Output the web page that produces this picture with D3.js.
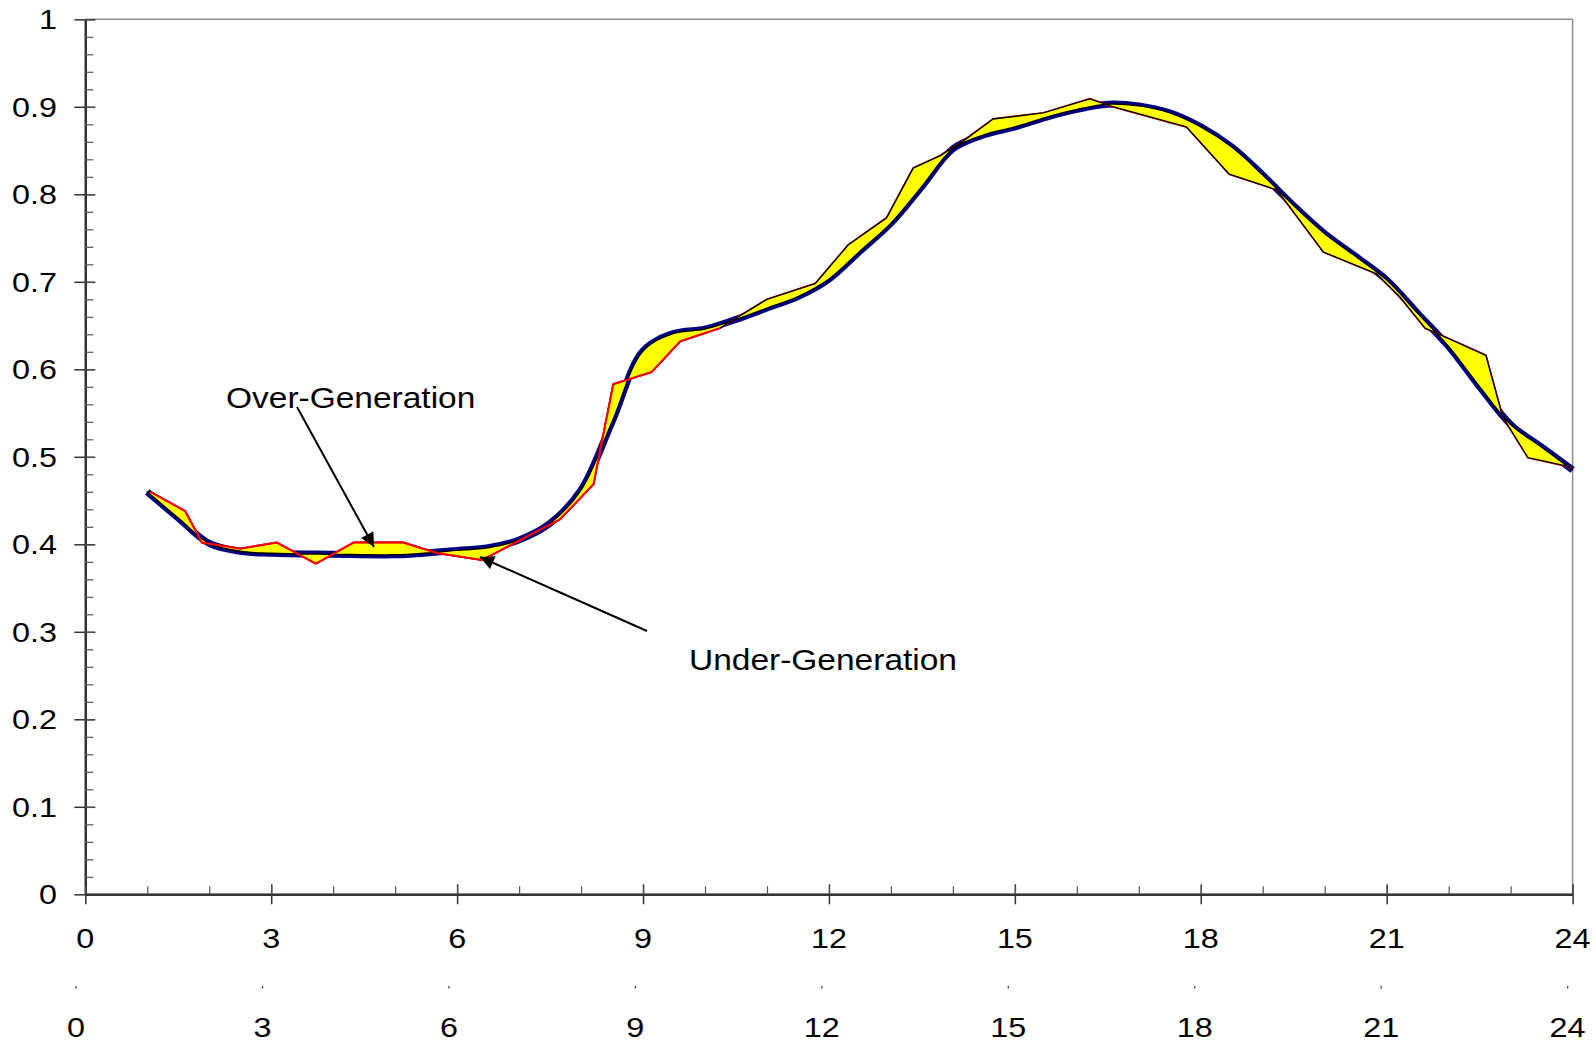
<!DOCTYPE html>
<html><head><meta charset="utf-8">
<script src="https://cdn.jsdelivr.net/npm/d3@7"></script>
<style>
html,body{margin:0;padding:0;background:#fff;}
svg{display:block;}
text{font-family:"Liberation Sans",Arial,sans-serif;fill:#000;}
</style></head>
<body>
<svg id="chart" width="1596" height="1043"></svg>
<script>
// ---- data ----
const forecastHours = [1,1.5,2,2.5,3,4,5,5.5,6,6.5,7,7.5,8,8.5,9,9.5,10,10.5,11,11.5,12,12.5,13,13.5,14,14.5,15,15.5,16,16.5,17,17.5,18,18.5,19,19.5,20,20.5,21,21.5,22,22.5,23,23.5,24];
const forecastValues = [0.460,0.430,0.401,0.392,0.3897,0.3886,0.388,0.390,0.393,0.396,0.405,0.424,0.462,0.540,0.621,0.641,0.646,0.657,0.670,0.683,0.703,0.735,0.767,0.809,0.852,0.868,0.877,0.888,0.897,0.903,0.901,0.893,0.877,0.854,0.822,0.787,0.755,0.729,0.702,0.664,0.626,0.580,0.537,0.511,0.485];
const actualHours = [1.05,1.61,1.88,2.50,3.09,3.72,4.33,5.13,5.67,6.40,7.66,8.20,8.52,9.14,9.60,10.24,11.00,11.78,12.31,12.93,13.36,13.79,14.17,14.65,15.46,16.21,16.54,17.05,17.77,18.46,19.23,19.98,20.84,21.21,21.62,21.91,22.60,22.87,23.28,23.93,24.0];
const actualValues = [0.460,0.438,0.402,0.395,0.402,0.378,0.402,0.402,0.390,0.382,0.4286,0.4686,0.583,0.597,0.632,0.647,0.680,0.698,0.742,0.773,0.830,0.844,0.861,0.886,0.893,0.909,0.901,0.891,0.877,0.823,0.805,0.734,0.709,0.683,0.647,0.638,0.616,0.546,0.499,0.489,0.485];
const redSegmentEndHour = 10.24;
const xTickLabels = [0,3,6,9,12,15,18,21,24];
const yTickLabels = [0,0.1,0.2,0.3,0.4,0.5,0.6,0.7,0.8,0.9,1];
const annotations = [
  {text:"Over-Generation", tx:226, ty:398, from:[297,407], to:[374,547]},
  {text:"Under-Generation", tx:689, ty:660, from:[647,631], to:[480,557]}
];

// ---- layout ----
const svg = d3.select("#chart");
const x = d3.scaleLinear().domain([0,24]).range([85.3,1572.6]);
const y = d3.scaleLinear().domain([0,1]).range([894.3,19.3]);
const x2 = d3.scaleLinear().domain([0,24]).range([76,1567.6]);
const SX = 1.155;

const forecast = forecastHours.map((h,i)=>[h,forecastValues[i]]);
const actual = actualHours.map((h,i)=>[h,actualValues[i]]);

// frame (top/right border)
svg.append("line").attr("x1",x(0)).attr("x2",x(24)).attr("y1",y(1)).attr("y2",y(1))
  .attr("stroke","#8c8c8c").attr("stroke-width",1.5);
svg.append("line").attr("x1",x(24)).attr("x2",x(24)).attr("y1",y(1)).attr("y2",y(0))
  .attr("stroke","#8c8c8c").attr("stroke-width",1.5);

// axes
const axisColor = "#333";
function styleAxis(g){ g.select(".domain").attr("stroke",axisColor).attr("stroke-width",2);
  g.selectAll(".tick line").attr("stroke",axisColor).attr("stroke-width",1.5);
  g.selectAll(".tick text").remove(); }
svg.append("g").attr("transform",`translate(${x(0)},0)`)
  .call(d3.axisLeft(y).tickValues(yTickLabels).tickSize(11).tickSizeOuter(0)).call(styleAxis);
svg.append("g").attr("transform",`translate(${x(0)},0)`)
  .call(d3.axisRight(y).tickValues(yTickLabels).tickSize(10).tickSizeOuter(0)).call(styleAxis);
svg.append("g").attr("transform",`translate(${x(0)},0)`)
  .call(d3.axisRight(y).tickValues(d3.range(0,1.0001,0.02)).tickSize(8).tickSizeOuter(0)).call(styleAxis)
  .selectAll(".tick line").attr("stroke","#555").attr("stroke-width",1.2);
svg.append("g").attr("transform",`translate(0,${y(0)})`)
  .call(d3.axisBottom(x).tickValues(xTickLabels).tickSize(10).tickSizeOuter(0)).call(styleAxis);
svg.append("g").attr("transform",`translate(0,${y(0)})`)
  .call(d3.axisTop(x).tickValues(xTickLabels).tickSize(10).tickSizeOuter(0)).call(styleAxis);
svg.append("g").attr("transform",`translate(0,${y(0)})`)
  .call(d3.axisTop(x).tickValues(d3.range(0,25,1)).tickSize(8).tickSizeOuter(0)).call(styleAxis)
  .selectAll(".tick line").attr("stroke","#555").attr("stroke-width",1.2);

// tick labels
function label(g, txt, px, py, anchor, fs){
  g.append("g").attr("transform",`translate(${px},${py}) scale(${SX},1)`)
   .append("text").attr("text-anchor",anchor).attr("dominant-baseline","central")
   .attr("font-size",fs).text(txt);
}
const lab = svg.append("g");
yTickLabels.forEach(v=>label(lab, d3.format("")(+v.toFixed(1)), 57, y(v), "end", 28));
xTickLabels.forEach(v=>label(lab, v, x(v), 938.5, "middle", 28));
// secondary bottom axis
const ax2 = svg.append("g");
xTickLabels.forEach(v=>{
  ax2.append("rect").attr("x",x2(v)-0.6).attr("y",986).attr("width",1.3).attr("height",2.5).attr("fill","#444");
  label(ax2, v, x2(v), 1027.5, "middle", 28);
});

// series
const smoothLine = d3.line().x(d=>x(d[0])).y(d=>y(d[1])).curve(d3.curveCatmullRom.alpha(0.5));
const jagLine = d3.line().x(d=>x(d[0])).y(d=>y(d[1]));

// blue forecast curve
svg.append("path").attr("d",smoothLine(forecast)).attr("fill","none")
  .attr("stroke","#000080").attr("stroke-width",7).attr("stroke-linejoin","round");
// red actual line (underneath)
svg.append("path").attr("d",jagLine(actual)).attr("fill","none")
  .attr("stroke","#ff0000").attr("stroke-width",2);
// yellow difference polygon
const back = smoothLine(forecast.slice().reverse()).replace(/^M/,"L");
svg.append("path").attr("d",jagLine(actual)+back+"Z")
  .attr("fill","#ffff00").attr("stroke","#000").attr("stroke-width",1.4).attr("stroke-linejoin","round");
// red on top for the early part
svg.append("path").attr("d",jagLine(actual.filter(d=>d[0]<=redSegmentEndHour))).attr("fill","none")
  .attr("stroke","#ff0000").attr("stroke-width",2).attr("stroke-linejoin","round");

// annotations
const defs = svg.append("defs");
defs.append("marker").attr("id","arr").attr("viewBox","0 0 10 10").attr("refX",10).attr("refY",5)
  .attr("markerUnits","userSpaceOnUse").attr("orient","auto")
  .attr("markerWidth",16).attr("markerHeight",14)
  .append("path").attr("d","M0,0L10,5L0,10Z").attr("fill","#000");
annotations.forEach(a=>{
  svg.append("line").attr("x1",a.from[0]).attr("y1",a.from[1]).attr("x2",a.to[0]).attr("y2",a.to[1])
    .attr("stroke","#000").attr("stroke-width",2).attr("marker-end","url(#arr)");
  svg.append("g").attr("transform",`translate(${a.tx},${a.ty}) scale(${SX},1)`)
    .append("text").attr("dominant-baseline","central").attr("font-size",29).text(a.text);
});
</script>
</body></html>
